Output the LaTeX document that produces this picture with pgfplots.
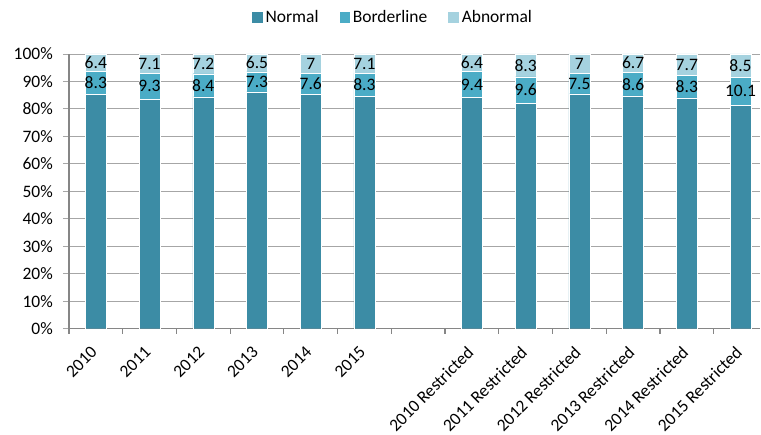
\documentclass[border=0pt]{standalone}
\usepackage{pgfplots}
\pgfplotsset{compat=1.18}
\usepackage{pgfplotstable}
\usepackage{fontspec}
\setmainfont{Carlito}
\definecolor{cN}{HTML}{3C8CA5}
\definecolor{cB}{HTML}{4BACC6}
\definecolor{cA}{HTML}{A5D2DF}
\definecolor{gridc}{HTML}{A6A6A6}
\definecolor{axc}{HTML}{868686}
\pgfplotstableread{
x n b a
0 85.3 8.3 6.4
1 83.6 9.3 7.1
2 84.4 8.4 7.2
3 86.2 7.3 6.5
4 85.4 7.6 7.0
5 84.6 8.3 7.1
7 84.2 9.4 6.4
8 82.1 9.6 8.3
9 85.5 7.5 7.0
10 84.7 8.6 6.7
11 84.0 8.3 7.7
12 81.4 10.1 8.5
}\data
\pgfplotsset{
  common/.style={scale only axis, width=692pt, height=275pt,
    at={(0,0)}, anchor=south west,
    xmin=-0.5, xmax=12.37, ymin=0, ymax=100}
}
\begin{document}
\begin{tikzpicture}[font=\fontsize{17.5}{20}\selectfont]
\begin{axis}[
  common,
  ybar stacked, bar width=21pt,
  axis lines*=left,
  axis line style={axc, line width=1.2pt},
  ytick={0,10,...,100},
  yticklabel={\pgfmathprintnumber{\tick}\%},
  /pgf/number format/assume math mode=true,
  ymajorgrids, grid style={gridc, line width=0.9pt},
  tick align=outside,
  major tick length=6pt, minor tick length=5pt,
  xtick={0,...,12},
  xticklabels={2010,2011,2012,2013,2014,2015,{},2010 Restricted,2011 Restricted,2012 Restricted,2013 Restricted,2014 Restricted,2015 Restricted},
  minor xtick={-0.5,0.5,...,11.5},
  x tick style={axc, line width=1.2pt},
  major x tick style={draw=none},
  y tick style={gridc, line width=0.9pt},
  xticklabel style={anchor=north east, inner sep=1pt, xshift=-6pt, yshift=-9pt, rotate=45},
  yticklabel style={inner sep=1pt, xshift=-9pt},
  legend style={draw=none, fill=none, at={(0.468,1.135)}, anchor=center, legend columns=3,
    /tikz/every even column/.append style={column sep=18pt}, inner sep=0pt},
  legend cell align=left,
  legend image code/.code={\fill[#1] (0pt,-6pt) rectangle (12pt,6pt);},
]
\addplot[fill=cN, draw=white, line width=0.4pt] table[x=x,y=n]{\data};
\addlegendentry{Normal}
\addplot[fill=cB, draw=white, line width=0.4pt] table[x=x,y=b]{\data};
\addlegendentry{Borderline}
\addplot[fill=cA, draw=white, line width=0.4pt] table[x=x,y=a]{\data};
\addlegendentry{Abnormal}
\end{axis}
\begin{axis}[common, hide axis,
  /pgf/number format/assume math mode=true,
  every node near coord/.append style={anchor=center, text=black, inner sep=0pt}]
\addplot[draw=none, mark=none, nodes near coords, point meta=explicit]
  table[x=x, y expr={\thisrow{n}+0.5*\thisrow{b}}, meta=b]{\data};
\addplot[draw=none, mark=none, nodes near coords, point meta=explicit]
  table[x=x, y expr={\thisrow{n}+\thisrow{b}+0.5*\thisrow{a}}, meta=a]{\data};
\end{axis}
\path[use as bounding box] (-69pt,-106pt) rectangle (692pt,329pt);
\end{tikzpicture}
\end{document}
